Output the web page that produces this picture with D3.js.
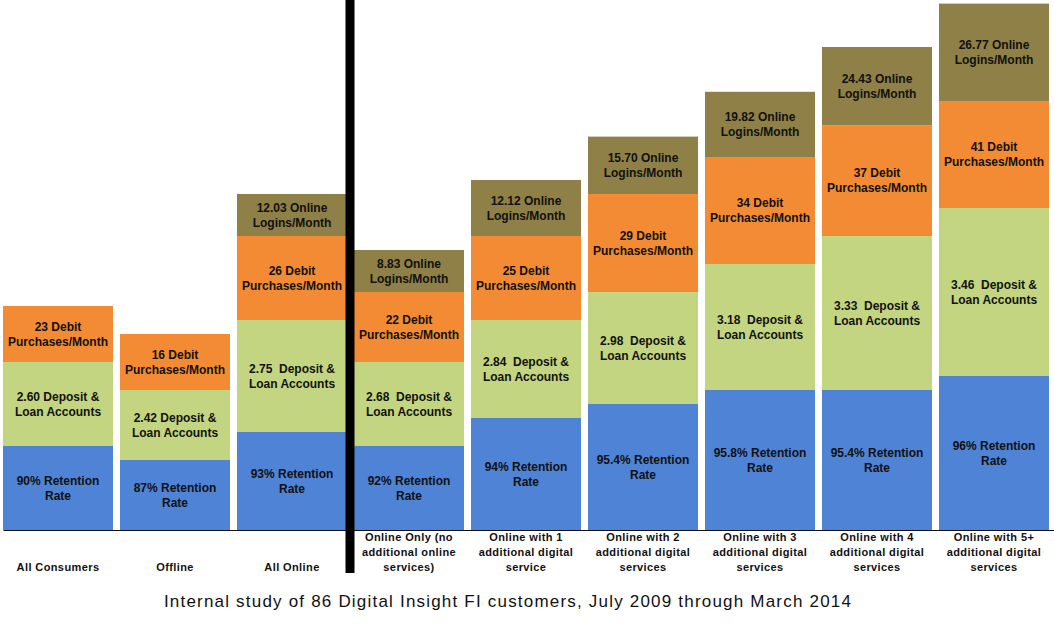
<!DOCTYPE html>
<html lang="en">
<head>
    <meta charset="UTF-8">
    <title>Digital Insight study</title>
    <style>
        body{ margin: 0; background: #fff; }
        text{ font-family: Arial, "Liberation Sans", sans-serif; }
        .seg-label{ font-size: 12px; font-weight: bold; fill: #111; white-space: pre; }
        .cat-label{ font-size: 11px; font-weight: bold; fill: #111; letter-spacing: 0.4px; }
        .title{ font-size: 17px; fill: #111; letter-spacing: 1.2px; }
    </style>
</head>
<body>
    <svg id="main-svg" width="1054" height="627"></svg>

    <script src="https://cdn.jsdelivr.net/npm/d3@7/dist/d3.min.js"></script>
    <script>

        const categories = [
            ['All Consumers'],
            ['Offline'],
            ['All Online'],
            ['Online Only (no', 'additional online', 'services)'],
            ['Online with 1', 'additional digital', 'service'],
            ['Online with 2', 'additional digital', 'services'],
            ['Online with 3', 'additional digital', 'services'],
            ['Online with 4', 'additional digital', 'services'],
            ['Online with 5+', 'additional digital', 'services']
        ];

        // segment heights as drawn in the picture (chart units)
        const retention = [6, 5, 7, 6, 8, 9, 10, 10, 11];
        const deposit   = [6, 5, 8, 6, 7, 8, 9, 11, 12];
        const debit     = [4, 4, 6, 5, 6, 7, 7.6, 7.9, 7.6];
        const logins    = [0, 0, 3, 3, 4, 4.1, 4.7, 5.6, 7];

        const retentionText = ['90%', '87%', '93%', '92%', '94%', '95.4%', '95.8%', '95.4%', '96%'];
        const depositText   = ['2.60 ', '2.42 ', '2.75  ', '2.68  ', '2.84  ', '2.98  ', '3.18  ', '3.33  ', '3.46  '];
        const debitText     = ['23', '16', '26', '22', '25', '29', '34', '37', '41'];
        const loginText     = [null, null, '12.03', '8.83', '12.12', '15.70', '19.82', '24.43', '26.77'];

        const title = 'Internal study of 86 Digital Insight FI customers, July 2009 through March 2014';

        const series = [
            {key: 'retention', color: '#4F83D6', values: retention,
                lines: i => [retentionText[i] + ' Retention', 'Rate']},
            {key: 'deposit', color: '#C3D580', values: deposit,
                lines: i => [depositText[i] + 'Deposit &', 'Loan Accounts']},
            {key: 'debit', color: '#F38B34', values: debit,
                lines: i => [debitText[i] + ' Debit', 'Purchases/Month']},
            {key: 'logins', color: '#8E8046', values: logins,
                lines: i => [loginText[i] + ' Online', 'Logins/Month']}
        ];

        const baseY = 530;
        let mSvg = d3.select('#main-svg');

        let x = d3.scaleBand()
            .domain(d3.range(categories.length))
            .range([3, 1049])
            .paddingInner(7 / 117)
            .paddingOuter(0);

        let y = d3.scaleLinear()
            .domain([0, 38])
            .range([baseY, baseY - 38 * 14]);

        // stack the series per category
        let rows = categories.map((c, i) => {
            let r = {i: i};
            series.forEach(s => r[s.key] = s.values[i]);
            return r;
        });
        let stacked = d3.stack().keys(series.map(s => s.key))(rows);

        let layers = mSvg.selectAll('g.layer')
            .data(stacked)
            .enter()
            .append('g')
            .classed('layer', true)
            .style('fill', (d, i) => series[i].color);

        layers.selectAll('rect')
            .data(d => d.filter(p => p[1] > p[0]))
            .enter()
            .append('rect')
            .attr('x', d => x(d.data.i))
            .attr('y', d => y(d[1]))
            .attr('width', x.bandwidth())
            .attr('height', d => y(d[0]) - y(d[1]));

        // segment labels
        stacked.forEach((layer, li) => {
            layer.filter(p => p[1] > p[0]).forEach(p => {
                let cy = (y(p[0]) + y(p[1])) / 2;
                let lines = series[li].lines(p.data.i);
                mSvg.append('text')
                    .classed('seg-label', true)
                    .attr('text-anchor', 'middle')
                    .selectAll('tspan')
                    .data(lines)
                    .enter()
                    .append('tspan')
                    .attr('x', x(p.data.i) + x.bandwidth() / 2)
                    .attr('y', (d, k) => cy - 3.5 + k * 15)
                    .text(d => d);
            });
        });

        // base line
        mSvg.append('g')
            .attr('transform', 'translate(0,' + baseY + ')')
            .call(d3.axisBottom(d3.scaleLinear().range([3, 1054])).ticks(0).tickSizeOuter(0))
            .select('.domain')
            .attr('stroke', '#111');

        // divider between groups
        let divX = (x(2) + x.bandwidth() + x(3)) / 2;
        mSvg.append('rect')
            .attr('x', divX - 5)
            .attr('y', 0)
            .attr('width', 9)
            .attr('height', 573)
            .style('fill', '#000');

        // category labels, bottom aligned
        categories.forEach((lines, i) => {
            mSvg.append('text')
                .classed('cat-label', true)
                .attr('text-anchor', 'middle')
                .selectAll('tspan')
                .data(lines)
                .enter()
                .append('tspan')
                .attr('x', x(i) + x.bandwidth() / 2)
                .attr('y', (d, k) => 571 - (lines.length - 1 - k) * 15)
                .text(d => d);
        });

        mSvg.append('text')
            .classed('title', true)
            .attr('x', 508)
            .attr('y', 607)
            .attr('text-anchor', 'middle')
            .text(title);

    </script>
</body>
</html>
